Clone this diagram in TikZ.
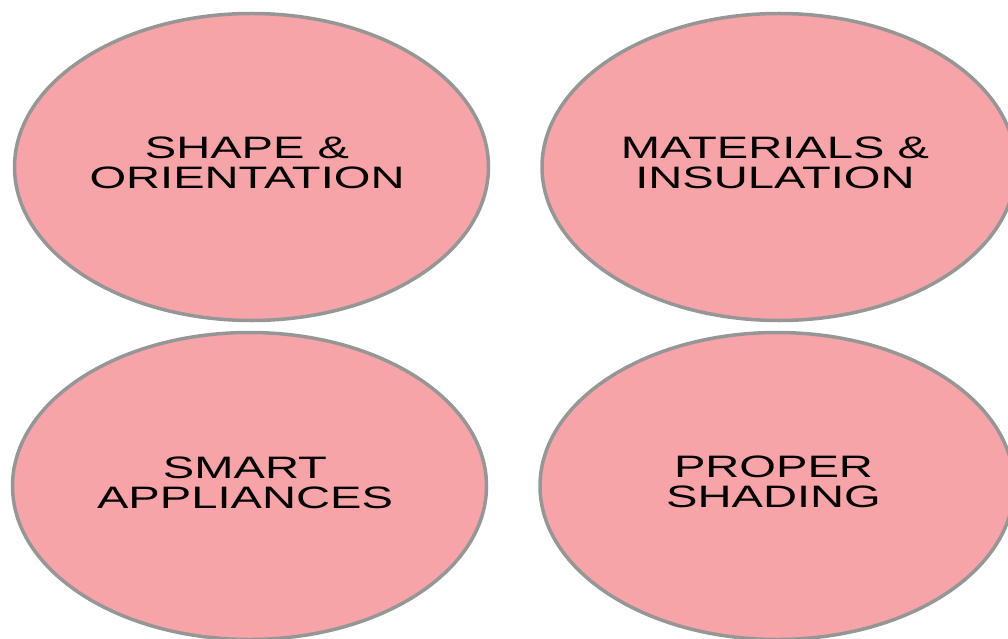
\documentclass[tikz,border=0pt]{standalone}
\usepackage{fontspec}
\usepackage{tikz}
\usetikzlibrary{shapes.geometric}
\newfontfamily\ellfont[FakeStretch=1.52]{Liberation Sans}
\definecolor{ellpink}{RGB}{247,164,168}
\definecolor{ellgray}{RGB}{150,150,150}

\begin{document}
\begin{tikzpicture}[x=1pt, y=-1pt]
\def\ellw{474pt}
\def\ellh{307pt}

\tikzstyle{topic node}=[ellipse,draw=ellgray,fill=ellpink,line width=3.5pt,minimum width=\ellw,minimum height=\ellh,inner sep=0pt]
\tikzstyle{topic text}=[align=center,text=black,inner sep=0pt,font=\ellfont\fontsize{31}{30}\selectfont]

% page frame
\useasboundingbox (0,0) rectangle (1008,639);

% four topics
\node[topic node] (TL) at (251.5,167) {};
\node[topic node] (TR) at (779,167) {};
\node[topic node] (BL) at (249.5,486) {};
\node[topic node] (BR) at (777,486) {};

% their texts (a little left of and above the centre)
\node[topic text] (TLt) at ([shift={(-4.5,-4)}]TL.center) {SHAPE \&\\ORIENTATION};
\node[topic text] (TRt) at ([shift={(-4,-4)}]TR.center) {MATERIALS \&\\INSULATION};
\node[topic text] (BLt) at ([shift={(-4.5,-3.5)}]BL.center) {SMART\\APPLIANCES};
\node[topic text] (BRt) at ([shift={(-3.5,-4)}]BR.center) {PROPER\\SHADING};

\end{tikzpicture}
\end{document}
